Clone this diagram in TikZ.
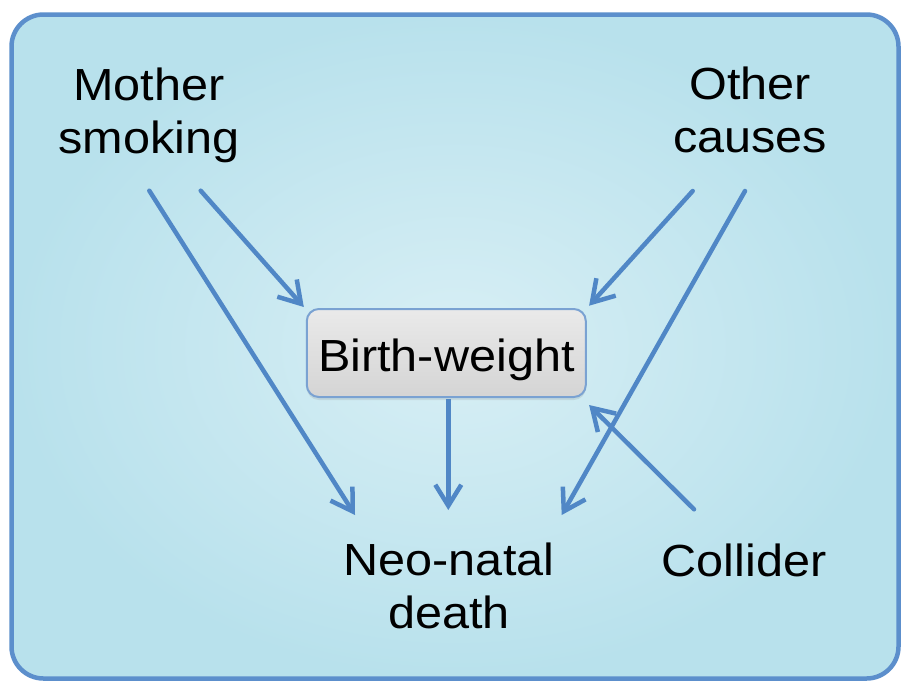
\documentclass[tikz,border=0pt]{standalone}
\usepackage{fontspec}
\setmainfont[FakeStretch=1.08]{Liberation Sans}
\usetikzlibrary{arrows.meta,calc,shadows}
\definecolor{arrowblue}{RGB}{80,135,198}
\definecolor{framecol}{RGB}{92,143,204}
\definecolor{bginner}{RGB}{216,239,245}
\definecolor{bgouter}{RGB}{184,225,236}
\definecolor{boxtop}{RGB}{234,234,234}
\definecolor{boxbottom}{RGB}{212,212,212}
\definecolor{boxborder}{RGB}{122,162,210}
\begin{document}
\begin{tikzpicture}[x=1pt,y=-1pt,
  lbl/.style={font=\fontsize{45}{53}\selectfont, align=center, inner sep=0pt, anchor=north, text=black},
  link/.style={draw=arrowblue, line width=4.5pt, line cap=round, -{Straight Barb[length=21pt,width=26pt]}},
  bwbox/.style={draw=boxborder, line width=2pt, rounded corners=12pt, top color=boxtop, bottom color=boxbottom,
    minimum width=279pt, minimum height=88pt, inner sep=0pt, text height=37pt, text depth=0pt,
    font=\fontsize{45}{53}\selectfont, drop shadow={opacity=0.18, shadow xshift=0pt, shadow yshift=-3pt}},
]
\useasboundingbox (0,0) rectangle (901,681);
\fill[white] (0,0) rectangle (901,681);
\draw[line width=4.5pt, draw=framecol, inner color=bginner, outer color=bgouter, rounded corners=32pt]
  (11.5,14.5) rectangle (898.5,678.5);

\node[lbl] (ms) at (149,67.5) {Mother\\smoking};
\node[lbl] (oc) at (750,67) {Other\\causes};
\node[bwbox] (bw) at (446.3,353) {Birth-weight};
\node[lbl] (nn) at (449,542.5) {Neo-natal\\death};
\node[lbl] (col) at (744,543.3) {Collider};

\draw[link] ($(ms.north)+(51.7,123.2)$) -- ($(bw.north west)+(-2,-1)$);
\draw[link] ($(ms.north)+(0.3,123.2)$) -- ($(nn.north)+(-94,-27.5)$);
\draw[link] ($(oc.north)+(-57.3,124)$) -- ($(bw.north east)+(2.3,-2.3)$);
\draw[link] ($(oc.north)+(-5,124)$) -- ($(nn.north)+(112.7,-27.5)$);
\draw[link, line cap=butt] ($(bw.south)+(2,1)$) -- ($(nn.north)+(-0.7,-32.5)$);
\draw[link] ($(col.north)+(-50,-34)$) -- ($(bw.south east)+(2.3,7)$);
\end{tikzpicture}
\end{document}
